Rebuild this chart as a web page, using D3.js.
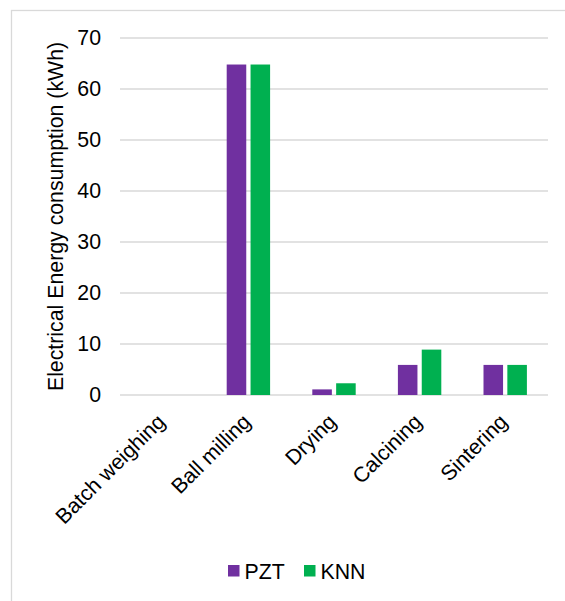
<!DOCTYPE html>
<html><head><meta charset="utf-8">
<script src="https://cdn.jsdelivr.net/npm/d3@7"></script>
<style>body{margin:0;background:#fff}svg{display:block}text{font-family:Arial,"Liberation Sans",sans-serif;fill:#000}</style>
</head><body><svg id="c" width="565" height="601"></svg>
<script>
const categories = ["Batch weighing","Ball milling","Drying","Calcining","Sintering"];
const seriesNames = ["PZT","KNN"];
const pztValues = [0, 64.8, 1.1, 5.9, 5.9];
const knnValues = [0, 64.8, 2.3, 8.9, 5.9];
const yTicks = [0,10,20,30,40,50,60,70];
const colors = ["#7030A0","#00B050"];
const yTitle = "Electrical Energy consumption (kWh)";

const svg = d3.select("#c");
const fs = 21.3;
// outer frame
svg.append("rect").attr("x",11.5).attr("y",10.5).attr("width",700).attr("height",700)
  .attr("fill","none").attr("stroke","#d9d9d9").attr("stroke-width",1.3);

const x = d3.scaleBand().domain(categories).range([120,548]).paddingInner(0.493).paddingOuter(0.2465);
const xs = d3.scaleBand().domain(seriesNames).range([0,x.bandwidth()]).paddingInner(0.18);
const y = d3.scaleLinear().domain([0,70]).range([395,38]);

// gridlines
svg.append("g").selectAll("line").data(yTicks).join("line")
  .attr("x1",120).attr("x2",548).attr("y1",d=>y(d)).attr("y2",d=>y(d))
  .attr("stroke","#d9d9d9").attr("stroke-width",1.3);

// y tick labels
svg.append("g").selectAll("text").data(yTicks).join("text")
  .attr("x",101).attr("y",d=>y(d)).attr("dy","0.35em").attr("text-anchor","end")
  .attr("font-size",fs).text(d=>d);

// bars
const data = categories.map((c,i)=>({c, vals:[pztValues[i], knnValues[i]]}));
const g = svg.append("g").selectAll("g").data(data).join("g")
  .attr("transform",d=>`translate(${x(d.c)},0)`);
g.selectAll("rect").data(d=>d.vals.map((v,j)=>({s:seriesNames[j],v,j}))).join("rect")
  .attr("x",d=>xs(d.s)).attr("width",xs.bandwidth())
  .attr("y",d=>y(d.v)).attr("height",d=>y(0)-y(d.v))
  .attr("fill",d=>colors[d.j]);

// x labels
svg.append("g").selectAll("text").data(categories).join("text")
  .attr("transform",d=>`translate(${x(d)+x.bandwidth()/2+3.5},${423}) rotate(-45)`)
  .attr("text-anchor","end").attr("font-size",fs).text(d=>d);

// y title
svg.append("text").attr("transform",`translate(63,216.5) rotate(-90)`)
  .attr("text-anchor","middle").attr("font-size",fs).text(yTitle);

// legend
const legX = [228,304];
const lg = svg.append("g").selectAll("g").data(seriesNames).join("g")
  .attr("transform",(d,i)=>`translate(${legX[i]},565)`);
lg.append("rect").attr("width",11.5).attr("height",11.5).attr("fill",(d,i)=>colors[i]);
lg.append("text").attr("x",16.5).attr("y",14.3).attr("font-size",fs).text(d=>d);
</script></body></html>
